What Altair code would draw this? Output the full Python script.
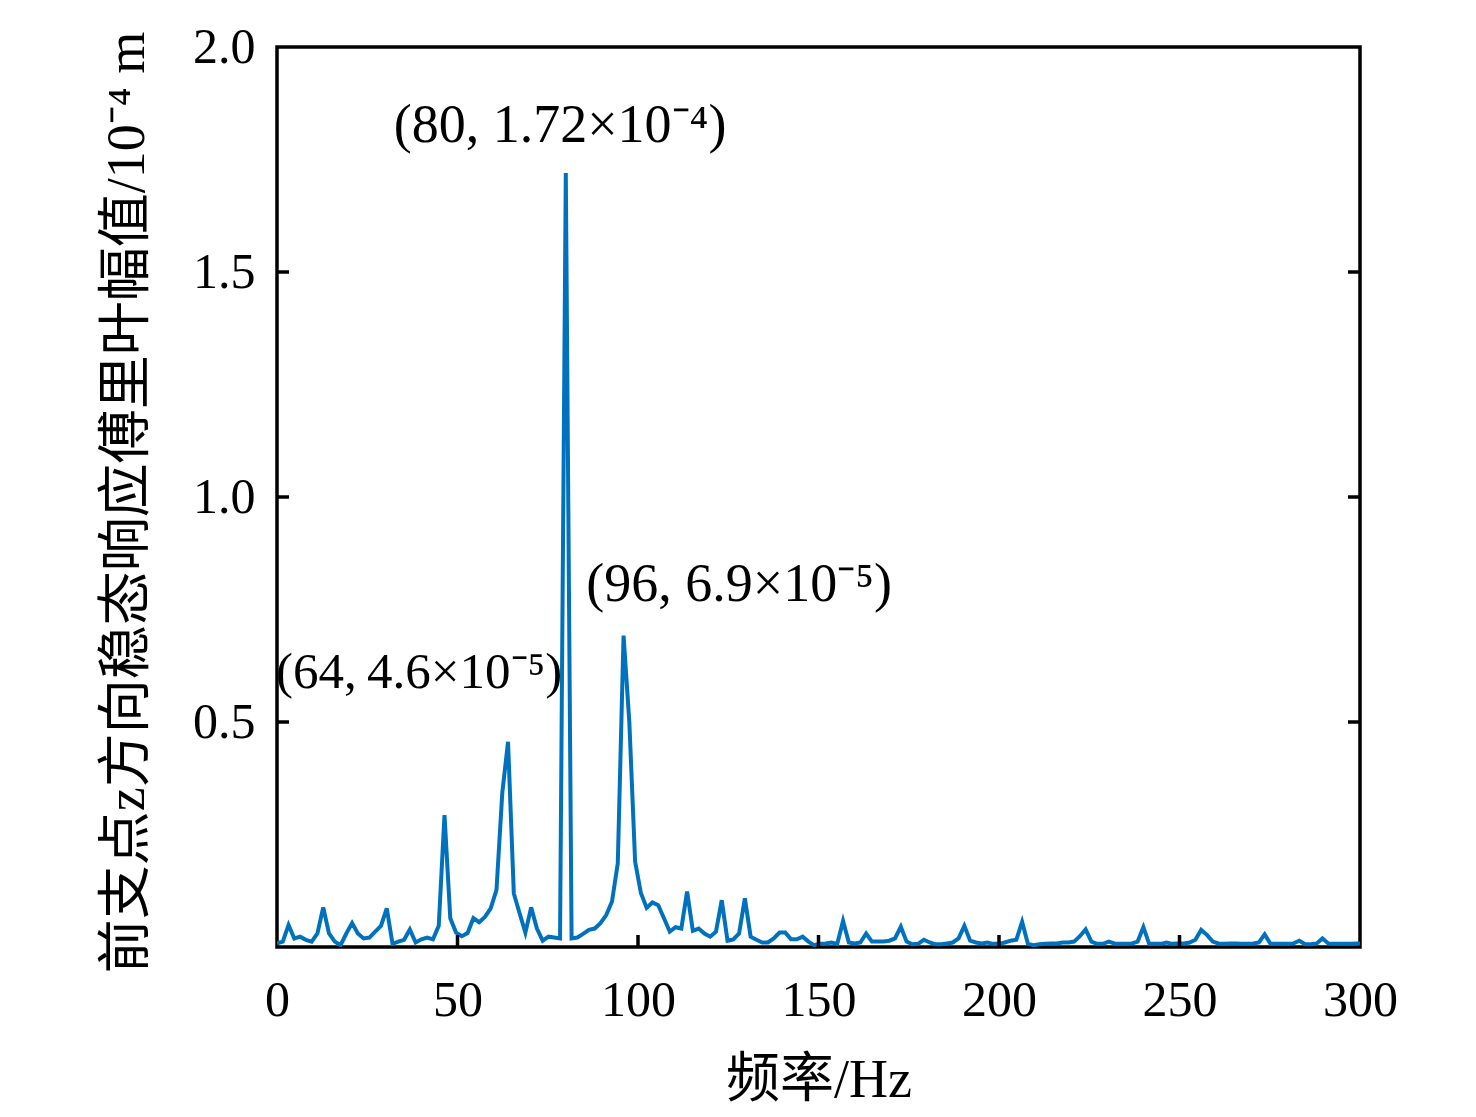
import altair as alt
import pandas as pd

# sampling step of the spectrum (Hz)
step = 1.6

# amplitude (10^-4 m), one value per 1.6 Hz bin
amp = [
    0.008, 0.012, 0.049, 0.019, 0.023, 0.016, 0.012, 0.030, 0.088, 0.030,
    0.012, 0.004, 0.030, 0.053, 0.030, 0.019, 0.021, 0.034, 0.047, 0.086,
    0.007, 0.012, 0.016, 0.039, 0.010, 0.017, 0.021, 0.017, 0.047, 0.293,
    0.064, 0.032, 0.024, 0.031, 0.064, 0.055, 0.067, 0.086, 0.127, 0.342,
    0.456, 0.119, 0.075, 0.032, 0.088, 0.041, 0.014, 0.023, 0.021, 0.019,
    1.720, 0.019, 0.021, 0.029, 0.038, 0.041, 0.053, 0.071, 0.101, 0.186,
    0.692, 0.500, 0.190, 0.120, 0.087, 0.099, 0.093, 0.064, 0.034, 0.044,
    0.041, 0.123, 0.036, 0.041, 0.030, 0.023, 0.034, 0.104, 0.014, 0.017,
    0.030, 0.108, 0.023, 0.016, 0.010, 0.010, 0.019, 0.032, 0.032, 0.017,
    0.017, 0.023, 0.012, 0.004, 0.007, 0.008, 0.010, 0.007, 0.058, 0.010,
    0.008, 0.010, 0.030, 0.012, 0.012, 0.012, 0.014, 0.019, 0.045, 0.012,
    0.006, 0.007, 0.016, 0.010, 0.006, 0.006, 0.008, 0.010, 0.019, 0.047,
    0.014, 0.010, 0.008, 0.010, 0.007, 0.007, 0.010, 0.014, 0.016, 0.056,
    0.007, 0.004, 0.006, 0.007, 0.008, 0.008, 0.010, 0.010, 0.012, 0.024,
    0.039, 0.012, 0.007, 0.007, 0.012, 0.008, 0.007, 0.007, 0.008, 0.012,
    0.044, 0.007, 0.007, 0.007, 0.010, 0.007, 0.008, 0.008, 0.010, 0.016,
    0.038, 0.027, 0.012, 0.008, 0.007, 0.008, 0.008, 0.007, 0.007, 0.008,
    0.010, 0.028, 0.007, 0.007, 0.007, 0.007, 0.008, 0.014, 0.006, 0.006,
    0.008, 0.019, 0.008, 0.007, 0.007, 0.007, 0.007, 0.008, 0.008,
]
freq = [round(i * step, 1) for i in range(len(amp))]

# annotations
ann_text = ["(80, 1.72×10⁻⁴)", "(96, 6.9×10⁻⁵)", "(64,\u20094.6×10⁻⁵)"]
ann_x = [78.4, 128.0, 39.4]
ann_y = [1.79, 0.768, 0.575]
ann_size = [54, 54, 51]

xticks = [0, 50, 100, 150, 200, 250, 300]
yticks = [0.5, 1.0, 1.5, 2.0]
inner_xticks = [50, 100, 150, 200, 250]
inner_yticks = [0.5, 1.0, 1.5]

W, H = 1083, 900
FONT = "'Liberation Serif', 'Times New Roman', 'Noto Sans CJK SC', serif"

df = pd.DataFrame({"f": freq, "a": amp})
ann = pd.DataFrame({"f": ann_x, "a": ann_y, "t": ann_text, "s": ann_size})
xt = pd.DataFrame({"f": inner_xticks})
yt = pd.DataFrame({"a": inner_yticks})

xscale = alt.Scale(domain=[0, 300], nice=False)
yscale = alt.Scale(domain=[0, 2], nice=False)

line = alt.Chart(df).mark_line(color="#0072BD", strokeWidth=4, clip=True).encode(
    x=alt.X(
        "f:Q",
        scale=xscale,
        axis=alt.Axis(
            values=xticks,
            title="频率/Hz",
            grid=False,
            ticks=False,
            tickSize=0,
            domain=False,
            labelFont=FONT,
            labelFontSize=50,
            labelColor="black",
            labelBaseline="alphabetic",
            labelPadding=68,
            labelFlush=False,
            titleFont=FONT,
            titleFontSize=54,
            titleFontWeight="normal",
            titleColor="black",
            titleBaseline="alphabetic",
            titleX=W / 2,
            titleY=149,
        ),
    ),
    y=alt.Y(
        "a:Q",
        scale=yscale,
        axis=alt.Axis(
            values=yticks,
            format=".1f",
            title="前支点z方向稳态响应傅里叶幅值/10⁻⁴ m",
            grid=False,
            ticks=False,
            tickSize=0,
            domain=False,
            labelFont=FONT,
            labelFontSize=50,
            labelColor="black",
            labelPadding=22,
            labelBaseline="middle",
            labelFlush=False,
            titleFont=FONT,
            titleFontSize=54,
            titleFontWeight="normal",
            titleColor="black",
            titleAngle=270,
            titleBaseline="middle",
            titleX=-150,
            titleY=H / 2 + 5,
        ),
    ),
)

bottom_ticks = alt.Chart(xt).mark_rule(color="black", strokeWidth=3.5).encode(
    x=alt.X("f:Q", scale=xscale), y=alt.value(H), y2=alt.value(H - 12)
)
left_ticks = alt.Chart(yt).mark_rule(color="black", strokeWidth=3.5).encode(
    y=alt.Y("a:Q", scale=yscale), x=alt.value(0), x2=alt.value(12)
)
right_ticks = alt.Chart(yt).mark_rule(color="black", strokeWidth=3.5).encode(
    y=alt.Y("a:Q", scale=yscale), x=alt.value(W - 12), x2=alt.value(W)
)

labels = alt.Chart(ann).mark_text(
    font=FONT, align="center", baseline="alphabetic", color="black"
).encode(
    x=alt.X("f:Q", scale=xscale),
    y=alt.Y("a:Q", scale=yscale),
    text="t:N",
    size=alt.Size("s:Q", scale=None, legend=None),
)

chart = (
    alt.layer(line, bottom_ticks, left_ticks, right_ticks, labels)
    .properties(
        width=W,
        height=H,
        autosize=alt.AutoSizeParams(type="none"),
        padding={"left": 269, "top": 39, "right": 100, "bottom": 170},
        background="white",
    )
    .configure_view(stroke="black", strokeWidth=3.5)
)

chart.save("out.html", embed_options={"renderer": "svg", "actions": False})
